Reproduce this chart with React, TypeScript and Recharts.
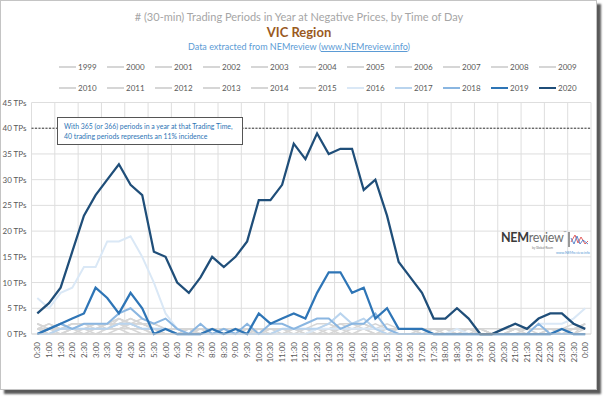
import { CartesianGrid, Line, LineChart, ReferenceLine, XAxis, YAxis } from "recharts";

const times = [
  "0:30", "1:00", "1:30", "2:00", "2:30", "3:00", "3:30", "4:00", "4:30", "5:00", "5:30", "6:00",
  "6:30", "7:00", "7:30", "8:00", "8:30", "9:00", "9:30", "10:00", "10:30", "11:00", "11:30", "12:00",
  "12:30", "13:00", "13:30", "14:00", "14:30", "15:00", "15:30", "16:00", "16:30", "17:00", "17:30", "18:00",
  "18:30", "19:00", "19:30", "20:00", "20:30", "21:00", "21:30", "22:00", "22:30", "23:00", "23:30", "0:00",
];

const yTicks = [0, 5, 10, 15, 20, 25, 30, 35, 40, 45];

const years = [
  "1999", "2000", "2001", "2002", "2003", "2004", "2005", "2006", "2007", "2008", "2009",
  "2010", "2011", "2012", "2013", "2014", "2015", "2016", "2017", "2018", "2019", "2020",
];

// trading periods at negative prices, per half-hour
const v1999 = [0,0,0,0,0,0,0,0,0,0,0,0,0,0,0,0,0,0,0,0,0,0,0,0,0,0,0,0,0,0,0,0,0,0,0,0,0,0,0,0,0,0,0,0,0,0,0,0];
const v2000 = [0,0,0,0,0,0,1,1,0,0,0,0,0,0,0,0,0,0,0,0,0,0,0,0,0,0,0,0,0,0,0,0,0,0,0,0,0,0,0,0,0,0,0,0,0,0,0,0];
const v2001 = [0,0,0,0,1,0,0,1,1,0,0,0,0,0,0,0,0,0,0,0,0,0,0,0,0,0,0,0,0,0,0,0,0,0,0,0,0,0,0,0,0,0,0,0,0,0,0,0];
const v2002 = [1,0,0,1,1,1,1,2,1,1,0,0,0,0,0,0,0,0,0,0,0,0,0,0,0,0,0,0,0,0,0,0,0,0,0,0,0,0,0,0,0,0,0,0,0,0,0,0];
const v2003 = [2,1,1,1,1,1,2,2,3,2,1,0,0,0,0,0,0,0,0,0,0,0,0,0,0,0,0,0,0,0,0,0,0,0,0,0,0,0,0,0,0,0,0,0,0,0,0,0];
const v2004 = [1,2,1,1,2,2,1,3,2,1,1,1,0,0,0,0,0,0,0,0,0,0,0,0,0,0,0,0,0,0,0,0,0,0,0,0,0,0,0,0,0,0,0,0,0,0,0,0];
const v2005 = [0,0,0,0,0,0,0,0,0,0,0,0,0,0,0,0,0,0,0,0,0,0,1,0,1,1,0,1,1,0,0,0,0,0,0,0,0,0,0,0,0,0,0,0,0,0,0,0];
const v2006 = [0,1,1,2,2,2,2,3,2,2,1,1,1,1,0,0,0,1,0,0,0,0,0,0,0,0,0,0,0,0,0,0,0,0,0,0,0,0,0,0,0,0,0,0,0,0,0,0];
const v2007 = [2,1,2,1,1,2,2,2,3,2,1,0,0,0,1,1,0,0,1,0,0,0,0,0,0,0,0,0,0,0,0,0,0,0,0,0,0,0,0,0,0,0,0,0,0,0,0,1];
const v2008 = [1,1,0,1,1,1,1,2,2,1,1,1,1,1,0,1,1,0,0,1,1,1,0,1,0,1,1,0,1,1,1,1,1,1,1,1,0,1,1,0,0,0,0,0,0,0,1,1];
const v2009 = [0,0,1,1,0,1,1,1,2,1,0,0,0,1,1,0,1,1,0,1,1,0,1,1,1,0,1,1,1,0,1,0,0,1,1,0,1,1,0,0,0,1,0,0,1,1,0,2];
const v2010 = [1,1,1,2,2,1,2,2,2,2,2,1,1,0,1,0,0,1,1,1,0,1,1,1,1,2,1,1,2,1,1,1,1,1,1,1,1,1,0,0,1,1,1,1,1,1,1,2];
const v2011 = [1,0,1,1,1,1,1,2,2,1,1,0,0,1,0,0,1,0,1,1,1,1,1,0,1,1,2,1,1,2,1,1,1,0,0,1,0,0,1,0,0,1,1,0,1,0,1,1];
const v2012 = [2,1,1,1,1,2,2,2,1,1,1,1,1,0,0,1,0,0,0,0,1,1,1,1,1,1,1,1,1,1,0,1,1,1,1,1,1,0,0,0,1,1,1,1,1,1,2,1];
const v2013 = [0,0,0,1,1,1,1,1,2,1,1,1,0,1,1,1,1,1,1,1,1,1,1,1,1,1,1,2,1,1,1,1,1,1,1,1,1,1,1,0,0,0,1,1,1,1,1,1];
const v2014 = [1,1,1,1,1,1,2,3,2,2,1,1,1,1,1,1,1,0,1,1,1,1,1,1,2,2,1,1,1,1,2,1,1,1,1,1,1,1,1,1,1,1,1,1,1,1,1,1];
const v2015 = [1,2,1,2,2,2,2,2,2,3,2,1,1,1,0,1,0,1,1,0,1,1,1,1,1,1,2,2,2,1,1,1,1,0,1,1,1,1,1,0,0,1,1,1,1,1,1,2];
const v2016 = [7,5,8,9,13,13,18,18,19,15,10,4,1,0,0,0,0,0,0,0,0,0,0,0,1,1,1,1,1,1,1,0,0,0,0,0,1,0,0,0,0,0,0,2,2,2,3,5];
const v2017 = [0,0,1,1,1,1,1,2,2,1,1,1,0,0,0,0,0,0,0,0,0,1,1,1,1,2,4,2,3,1,0,0,0,0,0,0,0,0,0,0,0,0,0,0,0,0,0,0];
const v2018 = [0,1,2,1,2,2,2,4,5,3,2,3,1,0,2,0,1,0,2,0,2,2,1,2,3,3,1,2,2,4,1,0,0,0,0,0,0,0,0,0,0,0,0,2,0,0,0,0];
const v2019 = [0,1,2,3,4,9,7,4,8,5,0,1,0,0,0,1,0,1,0,4,2,3,4,3,8,12,12,8,9,3,5,1,1,1,0,0,0,0,0,0,0,0,0,0,0,1,0,0];
const v2020 = [4,6,9,16,23,27,30,33,29,27,16,15,10,8,11,15,13,15,18,26,26,29,37,34,39,35,36,36,28,30,23,14,11,8,3,3,5,3,0,0,1,2,1,3,4,4,2,1];

const seriesByYear: Record<string, number[]> = {
  "1999": v1999, "2000": v2000, "2001": v2001, "2002": v2002, "2003": v2003, "2004": v2004,
  "2005": v2005, "2006": v2006, "2007": v2007, "2008": v2008, "2009": v2009, "2010": v2010,
  "2011": v2011, "2012": v2012, "2013": v2013, "2014": v2014, "2015": v2015, "2016": v2016,
  "2017": v2017, "2018": v2018, "2019": v2019, "2020": v2020,
};

const highlight: Record<string, { color: string; width: number }> = {
  "2016": { color: "#dae8f6", width: 2 },
  "2017": { color: "#b9d4ee", width: 2 },
  "2018": { color: "#8ab6e1", width: 2 },
  "2019": { color: "#2e75b6", width: 2.25 },
  "2020": { color: "#1f4e79", width: 2.25 },
};
const styleFor = (y: string) => highlight[y] ?? { color: "#d6d6d6", width: 1.5 };

const data = times.map((time, i) => {
  const row: Record<string, string | number> = { time };
  years.forEach((y) => {
    row[y] = seriesByYear[y][i];
  });
  return row;
});

const XTick = ({ x, y, payload }: any) => (
  <text
    x={x}
    y={y}
    transform={`rotate(-90 ${x} ${y})`}
    textAnchor="end"
    dominantBaseline="central"
    fontSize={8}
    fill="#595959"
  >
    {payload.value}
  </text>
);

const YTick = ({ x, y, payload }: any) => (
  <text x={x} y={y} textAnchor="end" dominantBaseline="central" fontSize={8} fill="#595959">
    {`${payload.value} TPs`}
  </text>
);

const Legend = () => (
  <div style={{ position: "absolute", left: 58, top: 60, width: 530 }}>
    {[years.slice(0, 11), years.slice(11)].map((row, r) => (
      <div key={r} style={{ display: "flex", height: 21 }}>
        {row.map((y) => {
          const s = styleFor(y);
          return (
            <div key={y} style={{ width: 48, display: "flex", alignItems: "center", height: 12 }}>
              <span style={{ width: 17, height: Math.max(2, s.width), background: s.color, marginRight: 2 }} />
              <span style={{ fontSize: 8, color: "#595959" }}>{y}</span>
            </div>
          );
        })}
      </div>
    ))}
  </div>
);

const Logo = () => (
  <div style={{ position: "absolute", left: 500, top: 229 }}>
    <div style={{ fontSize: 12.5, letterSpacing: -0.3 }}>
      <span style={{ fontWeight: 700, color: "#3a3a3a" }}>NEM</span>
      <span style={{ color: "#6d6d6d" }}>review</span>
      <span style={{ fontSize: 4, color: "#777", verticalAlign: "top" }}>™</span>
    </div>
    <div style={{ position: "absolute", left: 31, top: 16, fontSize: 3, color: "#777", whiteSpace: "nowrap" }}>by Global-Roam</div>
    <div style={{ position: "absolute", left: 55, top: 21, fontSize: 3.5, color: "#5b9bd5", whiteSpace: "nowrap" }}>www.NEMreview.info</div>
    <svg style={{ position: "absolute", left: 66, top: 2 }} width={22} height={16}>
      <line x1={2} y1={0} x2={2} y2={15} stroke="#555" strokeWidth={1.2} />
      <polyline points="4,10 8,3 11,11 14,5 18,12 21,9" fill="none" stroke="#e05050" strokeWidth={0.9} />
      <polyline points="4,6 7,12 10,4 13,12 16,8 21,12" fill="none" stroke="#4a7cc8" strokeWidth={0.9} />
    </svg>
  </div>
);

export default function App() {
  return (
    <div
      style={{
        position: "absolute",
        left: 0,
        top: 0,
        width: 597,
        height: 390,
        boxSizing: "border-box",
        border: "1px solid #c4c4c4",
        background: "#fff",
        boxShadow: "4px 4px 2px rgba(0,0,0,0.65)",
        fontFamily: "Lato, 'Open Sans', sans-serif",
      }}
    >
      <div style={{ position: "absolute", left: 0, top: 0 }}>
        <LineChart
          width={596}
          height={389}
          data={data}
          margin={{ top: 101.5, right: 6, bottom: 16, left: 2.5 }}
        >
          <CartesianGrid
            stroke="#dedede"
            strokeWidth={1}
            verticalCoordinatesGenerator={({ offset }: any) =>
              Array.from({ length: 25 }, (_, i) => offset.left + (i * offset.width) / 24)
            }
          />
          <XAxis
            dataKey="time"
            interval={0}
            padding={{ left: 5.8, right: 5.8 }}
            tick={<XTick />}
            tickLine={false}
            tickSize={0}
            tickMargin={8}
            height={40}
            axisLine={{ stroke: "#d9d9d9" }}
          />
          <YAxis
            domain={[0, 45]}
            ticks={yTicks}
            interval={0}
            width={28}
            axisLine={false}
            tickLine={false}
            tickSize={0}
            tickMargin={5}
            tick={<YTick />}
          />
          <ReferenceLine y={40} stroke="#3a3a3a" strokeWidth={1} strokeDasharray="2 1.5" />
          {years.map((y) => {
            const s = styleFor(y);
            return (
              <Line
                key={y}
                type="linear"
                dataKey={y}
                stroke={s.color}
                strokeWidth={s.width}
                dot={false}
                activeDot={false}
                isAnimationActive={false}
              />
            );
          })}
        </LineChart>
      </div>

      <div style={{ position: "absolute", left: 0, top: 9, width: 596, textAlign: "center", fontSize: 11, color: "#a6a6a6" }}>
        # (30-min) Trading Periods in Year at Negative Prices, by Time of Day
      </div>
      <div style={{ position: "absolute", left: 0, top: 23, width: 596, textAlign: "center", fontSize: 13, fontWeight: 700, color: "#9a5a1e" }}>
        VIC Region
      </div>
      <div style={{ position: "absolute", left: 0, top: 40, width: 596, textAlign: "center", fontSize: 9, color: "#5b9bd5" }}>
        Data extracted from NEMreview (<span style={{ textDecoration: "underline" }}>www.NEMreview.info</span>)
      </div>

      <Legend />

      <div
        style={{
          position: "absolute",
          left: 56,
          top: 116,
          width: 186,
          height: 28,
          boxSizing: "border-box",
          border: "1px solid #555",
          background: "#fff",
          padding: "3px 0 0 6px",
          fontSize: 6.9,
          lineHeight: "10px",
          color: "#2e75b6",
          whiteSpace: "nowrap",
        }}
      >
        With 365 (or 366) periods in a year at that Trading Time,
        <br />
        40 trading periods represents an 11% incidence
      </div>

      <Logo />
    </div>
  );
}
